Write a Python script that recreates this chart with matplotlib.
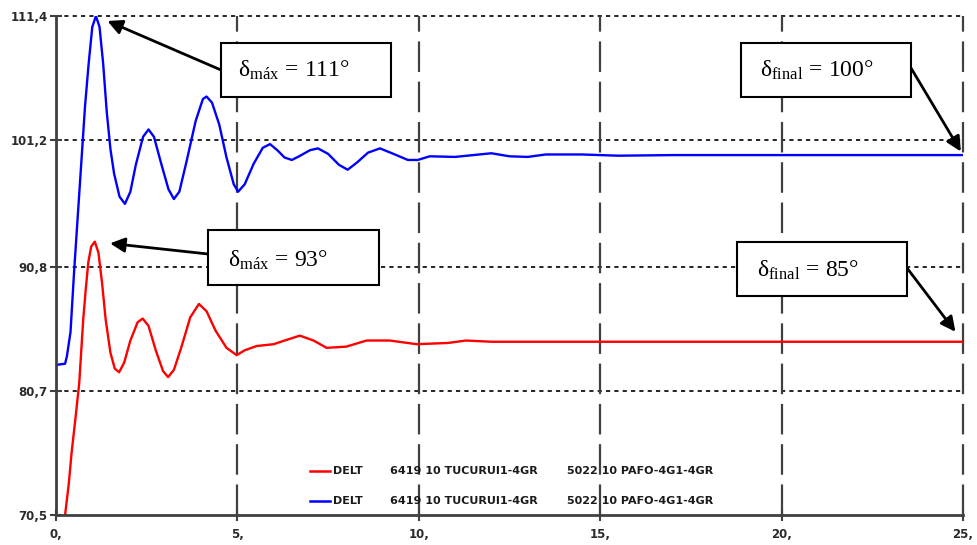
import matplotlib
matplotlib.use("Agg")
import matplotlib.pyplot as plt
from matplotlib.patches import Rectangle

plt.rcParams['lines.scale_dashes'] = False
plt.rcParams['mathtext.fontset'] = 'custom'
plt.rcParams['mathtext.rm'] = 'Liberation Serif'
plt.rcParams['mathtext.it'] = 'Liberation Serif:italic'
plt.rcParams['mathtext.bf'] = 'Liberation Serif:bold'

# ---------------- data ----------------
t_blue = [0.0, 0.25, 0.3, 0.4, 0.5, 0.6, 0.7, 0.8, 0.9, 1.0, 1.1, 1.2, 1.3, 1.4,
          1.5, 1.6, 1.75, 1.9, 2.05, 2.2, 2.4, 2.55, 2.7, 2.9, 3.1, 3.25, 3.4,
          3.6, 3.85, 4.05, 4.15, 4.3, 4.5, 4.7, 4.9, 5.02, 5.2, 5.45, 5.7, 5.9,
          6.1, 6.3, 6.5, 6.7, 7.0, 7.22, 7.5, 7.8, 8.04, 8.3, 8.6, 8.93, 9.3,
          9.7, 9.97, 10.3, 11.0, 11.5, 12.0, 12.5, 13.0, 13.5, 14.5, 15.5, 17.0, 25.0]
v_blue = [82.8, 82.9, 83.5, 85.5, 90.5, 95.0, 99.5, 104.0, 107.5, 110.5, 111.4, 110.5,
          107.5, 103.5, 100.5, 98.5, 96.6, 96.0, 97.0, 99.2, 101.5, 102.1, 101.5,
          99.3, 97.2, 96.4, 97.0, 99.5, 102.8, 104.6, 104.8, 104.3, 102.5, 99.8,
          97.6, 97.0, 97.6, 99.3, 100.6, 100.9, 100.4, 99.8, 99.6, 99.9, 100.4,
          100.55, 100.1, 99.2, 98.8, 99.4, 100.2, 100.55, 100.1, 99.6, 99.6, 99.9,
          99.85, 100.0, 100.15, 99.9, 99.85, 100.05, 100.05, 99.95, 100.0, 100.0]

t_red = [0.0, 0.2, 0.25, 0.35, 0.43, 0.55, 0.64, 0.75, 0.82, 0.89, 0.97, 1.07, 1.17,
         1.27, 1.37, 1.5, 1.62, 1.74, 1.88, 2.05, 2.25, 2.39, 2.55, 2.75, 2.95, 3.09,
         3.25, 3.45, 3.7, 3.94, 4.15, 4.4, 4.7, 4.98, 5.2, 5.53, 6.0, 6.3, 6.72, 7.1,
         7.46, 8.0, 8.56, 9.2, 9.94, 10.8, 11.3, 12.0, 25.0]
v_red = [68.5, 68.8, 70.5, 73.0, 75.6, 78.8, 81.3, 86.5, 89.0, 91.2, 92.5, 92.9, 92.0,
         89.5, 86.5, 83.8, 82.5, 82.2, 83.0, 84.8, 86.3, 86.6, 86.0, 84.0, 82.3, 81.8,
         82.4, 84.2, 86.7, 87.8, 87.2, 85.6, 84.2, 83.6, 84.0, 84.35, 84.5, 84.8, 85.2,
         84.8, 84.2, 84.3, 84.8, 84.8, 84.5, 84.6, 84.8, 84.7, 84.7]

x_ticks = [0, 5, 10, 15, 20, 25]
x_labels = ["0,", "5,", "10,", "15,", "20,", "25,"]
y_ticks = [70.5, 80.7, 90.8, 101.2, 111.4]
y_labels = ["70,5", "80,7", "90,8", "101,2", "111,4"]

legend_parts = ["DELT", "6419 10 TUCURUI1-4GR", "5022 10 PAFO-4G1-4GR"]
series_colors = ["#ff0000", "#0000ff"]

ann_max_blue = r"$\mathrm{δ}_{\mathrm{máx}}\,=\,\mathrm{111°}$"
ann_max_red = r"$\mathrm{δ}_{\mathrm{máx}}\,=\,\mathrm{93°}$"
ann_fin_blue = r"$\mathrm{δ}_{\mathrm{final}}\,=\,\mathrm{100°}$"
ann_fin_red = r"$\mathrm{δ}_{\mathrm{final}}\,=\,\mathrm{85°}$"

# ---------------- figure ----------------
W, H = 977, 545
fig = plt.figure(figsize=(W / 100, H / 100), dpi=100)

def fx(x):
    return x / W

def fy(y):
    return 1 - y / H

ax = fig.add_axes([fx(56), fy(515), fx(963) - fx(56), fy(16) - fy(515)])
ax.set_xlim(0, 25)
ax.set_ylim(70.5, 111.4)

ax.plot(t_red, v_red, color=series_colors[0], lw=1.7, zorder=3, clip_on=True)
ax.plot(t_blue, v_blue, color=series_colors[1], lw=1.7, zorder=3, clip_on=True)

for s in ['top', 'right']:
    ax.spines[s].set_visible(False)
for s in ['left', 'bottom']:
    ax.spines[s].set_color('#404040')
    ax.spines[s].set_linewidth(2)
    ax.spines[s].set_zorder(4)

ax.set_xticks(x_ticks)
ax.set_xticklabels(x_labels)
ax.set_yticks(y_ticks)
ax.set_yticklabels(y_labels)
ax.tick_params(axis='both', direction='inout', length=8, width=1.5, color='#404040',
               labelsize=8.5, labelcolor='#2b2b2b')
ax.tick_params(axis='x', pad=5)
ax.tick_params(axis='y', pad=2)
for lab in ax.get_xticklabels() + ax.get_yticklabels():
    lab.set_fontweight('bold')
    lab.set_family('DejaVu Sans')

# grid lines
for yv in y_ticks[1:]:
    ax.axhline(yv, color='black', lw=1.2, dashes=(3, 3), zorder=1, clip_on=False)
for xv in x_ticks[1:]:
    ax.axvline(xv, color='#404040', lw=1.6, dashes=(22, 7), zorder=1, clip_on=False)

# legend (custom)
leg_y = [471, 501]
for i, c in enumerate(series_colors):
    fig.add_artist(plt.Line2D([fx(310), fx(330)], [fy(leg_y[i])] * 2, color=c, lw=1.8))
    for xp, txt in zip([333, 390, 567], legend_parts):
        fig.text(fx(xp), fy(leg_y[i]), txt, fontsize=8, fontweight='bold',
                 family='DejaVu Sans', color='#1a1a1a', va='center', ha='left')

# annotation boxes
boxes = [
    (221, 43, 391, 97, 238, 77, ann_max_blue),
    (208, 230, 379, 285, 228, 267, ann_max_red),
    (741, 43, 911, 97, 760, 77, ann_fin_blue),
    (737, 242, 907, 296, 757, 277, ann_fin_red),
]
for x0, y0, x1, y1, tx, ty, txt in boxes:
    fig.add_artist(Rectangle((fx(x0), fy(y1)), fx(x1) - fx(x0), fy(y0) - fy(y1),
                             transform=fig.transFigure, facecolor='white',
                             edgecolor='black', lw=1.5, zorder=10))
    fig.text(fx(tx), fy(ty), txt, fontsize=17, ha='left', va='baseline', zorder=11,
             color='black')

# arrows
i_bmax = v_blue.index(max(v_blue))
i_rmax = v_red.index(max(v_red))
arrows = [
    ((t_blue[i_bmax], v_blue[i_bmax]), (221, 70), 9),
    ((t_red[i_rmax], v_red[i_rmax]), (208, 254), 11),
    ((t_blue[-1], v_blue[-1]), (911, 68), 3),
    ((t_red[-1], v_red[-1]), (907, 268), 9),
]
for xy, (sx, sy), shr in arrows:
    ax.annotate('', xy=xy, xycoords='data', xytext=(sx, H - sy),
                textcoords='figure pixels',
                arrowprops=dict(arrowstyle='-|>', color='black', lw=2,
                                mutation_scale=22, shrinkA=0, shrinkB=shr),
                annotation_clip=False, zorder=9)

fig.savefig("out.png", dpi=100)
